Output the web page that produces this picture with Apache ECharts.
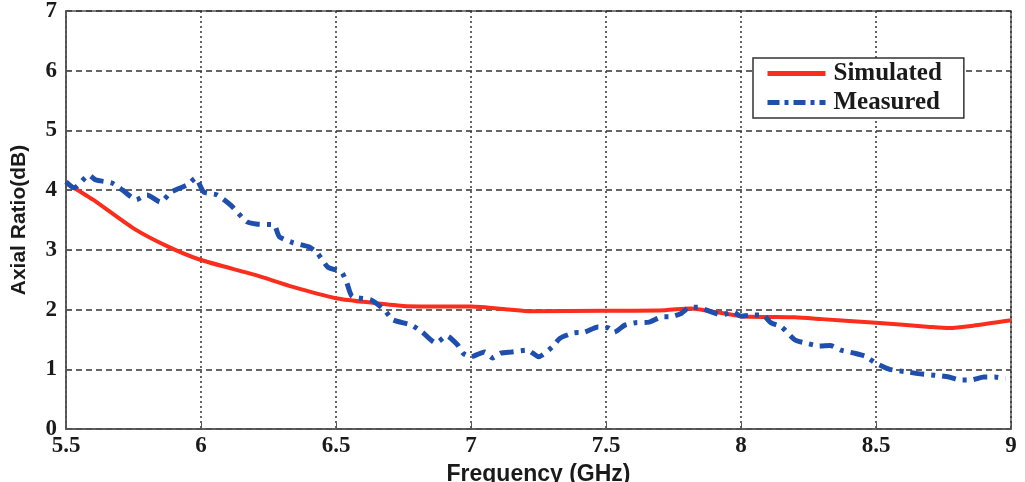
<!DOCTYPE html>
<html>
<head>
<meta charset="utf-8">
<script src="https://cdn.jsdelivr.net/npm/echarts@6/dist/echarts.min.js"></script>
<style>
  html, body { margin: 0; padding: 0; background: #fff; }
  #chart { width: 1025px; height: 482px; }
</style>
</head>
<body>
<div id="chart"></div>
<script type="text/javascript">
	// simulated axial ratio (red)
	var simFreq = [5.5, 5.6, 5.75, 5.88, 6.0, 6.2, 6.34, 6.5, 6.6, 6.75, 6.92, 7.0, 7.14, 7.22, 7.5, 7.72, 7.81, 8.0, 8.2, 8.3, 8.5, 8.7, 8.77, 8.86, 9.0];
	var simAR   = [4.12, 3.84, 3.36, 3.05, 2.83, 2.58, 2.38, 2.19, 2.13, 2.06, 2.05, 2.05, 2.0, 1.97, 1.98, 1.99, 2.02, 1.89, 1.87, 1.84, 1.78, 1.71, 1.69, 1.73, 1.82];

	// measured axial ratio (blue dash-dot)
	var measFreq = [5.5, 5.53, 5.585, 5.61, 5.67, 5.71, 5.76, 5.8, 5.85, 5.89, 5.95, 5.98, 6.01, 6.06, 6.11, 6.17, 6.21,
		6.27, 6.29, 6.34, 6.4, 6.43, 6.47, 6.52, 6.54, 6.56, 6.63, 6.68, 6.71, 6.78, 6.82, 6.87, 6.91,
		6.95, 6.97, 7.0, 7.05, 7.08, 7.11, 7.15, 7.21, 7.25, 7.3, 7.33, 7.38, 7.42, 7.47, 7.51, 7.53, 7.57, 7.61,
		7.66, 7.71, 7.74, 7.78, 7.81, 7.84, 7.89, 7.93, 7.97, 8.0, 8.05, 8.08, 8.11, 8.15, 8.2, 8.24, 8.29, 8.33,
		8.37, 8.42, 8.46, 8.5, 8.55, 8.61, 8.67, 8.72, 8.77, 8.81, 8.85, 8.9, 8.94, 8.98];
	var measAR   = [4.14, 4.04, 4.25, 4.17, 4.12, 4.0, 3.84, 3.92, 3.8, 3.97, 4.09, 4.2, 3.97, 3.92, 3.75, 3.47, 3.43,
		3.42, 3.22, 3.12, 3.05, 2.95, 2.71, 2.63, 2.45, 2.22, 2.16, 1.99, 1.83, 1.74, 1.62, 1.44, 1.56,
		1.41, 1.27, 1.21, 1.29, 1.19, 1.27, 1.29, 1.32, 1.21, 1.37, 1.52, 1.61, 1.62, 1.71, 1.69, 1.62, 1.74, 1.78,
		1.79, 1.88, 1.88, 1.94, 2.04, 2.04, 1.96, 1.91, 1.96, 1.89, 1.91, 1.91, 1.78, 1.71, 1.49, 1.44, 1.39, 1.40,
		1.32, 1.27, 1.22, 1.10, 1.0, 0.96, 0.92, 0.90, 0.87, 0.82, 0.82, 0.87, 0.87, 0.84];

	var xTicks = { min: 5.5, max: 9, step: 0.5 };
	var yTicks = { min: 0, max: 7, step: 1 };

	function pairs(xs, ys) {
		return xs.map(function (x, i) { return [x, ys[i]]; });
	}

	var redColor = '#fb2d1c';
	var blueColor = '#1f4fae';
	var measDash = [14, 7, 4, 7];

	var myChart = echarts.init(document.getElementById('chart'));
	var tickFont = {
		fontFamily: '"Liberation Serif", "Times New Roman", serif',
		fontWeight: 'bold',
		fontSize: 23,
		color: '#1a1a1a'
	};
	var option = {
		backgroundColor: '#fff',
		animation: false,
		grid: {
			left: 66,
			right: 14,
			top: 11,
			bottom: 53,
			show: true,
			borderColor: '#555',
			borderWidth: 1.5,
			outerBoundsMode: 'none'
		},
		legend: {
			data: [
				{ name: 'Simulated', lineStyle: { width: 5, color: redColor } },
				{ name: 'Measured', lineStyle: { width: 5, color: blueColor, type: [12, 5, 4, 5] } }
			],
			orient: 'vertical',
			left: 753,
			top: 58,
			padding: [3, 22, 3, 12],
			itemGap: 4,
			itemWidth: 58,
			itemHeight: 1,      // keeps the legend marker tucked under the thick line
			backgroundColor: '#fff',
			borderColor: '#333',
			borderWidth: 1.5,
			borderRadius: 0,
			textStyle: {
				fontFamily: '"Liberation Serif", "Times New Roman", serif',
				fontWeight: 'bold',
				fontSize: 25,
				color: '#1a1a1a',
				padding: [0, 0, 0, 3]
			}
		},
		xAxis: {
			type: 'value',
			min: xTicks.min,
			max: xTicks.max,
			interval: xTicks.step,
			name: 'Frequency (GHz)',
			nameLocation: 'middle',
			nameGap: 18,
			nameTextStyle: {
				fontFamily: '"Liberation Sans", Arial, sans-serif',
				fontWeight: 'bold',
				fontSize: 23,
				color: '#1a1a1a',
				verticalAlign: 'top'
			},
			axisLine: { show: true, lineStyle: { color: '#555', width: 1.5 } },
			axisTick: { show: true, inside: true, length: 6, lineStyle: { color: '#555' } },
			axisLabel: Object.assign({ margin: 6 }, tickFont),
			splitLine: {
				show: true,
				lineStyle: { color: '#333', width: 1.5, type: [2, 3] }
			}
		},
		yAxis: {
			type: 'value',
			min: yTicks.min,
			max: yTicks.max,
			interval: yTicks.step,
			name: 'Axial Ratio(dB)',
			nameLocation: 'middle',
			nameGap: 36,
			nameTextStyle: {
				fontFamily: '"Liberation Sans", Arial, sans-serif',
				fontWeight: 'bold',
				fontSize: 21,
				color: '#1a1a1a'
			},
			axisLine: { show: true, lineStyle: { color: '#555', width: 1.5 } },
			axisTick: { show: true, inside: true, length: 6, lineStyle: { color: '#555' } },
			axisLabel: Object.assign({ margin: 9 }, tickFont),
			splitLine: {
				show: true,
				lineStyle: { color: '#333', width: 1.5, type: [6, 4] }
			}
		},
		series: [
			{
				name: 'Simulated',
				type: 'line',
				symbol: 'none',
				smooth: 0.2,
				data: pairs(simFreq, simAR),
				itemStyle: { color: redColor },
				lineStyle: { color: redColor, width: 4 },
				z: 3
			},
			{
				name: 'Measured',
				type: 'line',
				symbol: 'none',
				smooth: 0.2,
				data: pairs(measFreq, measAR),
				itemStyle: { color: blueColor },
				lineStyle: { color: blueColor, width: 5, type: measDash },
				z: 4
			}
		]
	};
	myChart.setOption(option);
	window.addEventListener("resize", function () {
		myChart.resize();
	});
</script>
</body>
</html>
